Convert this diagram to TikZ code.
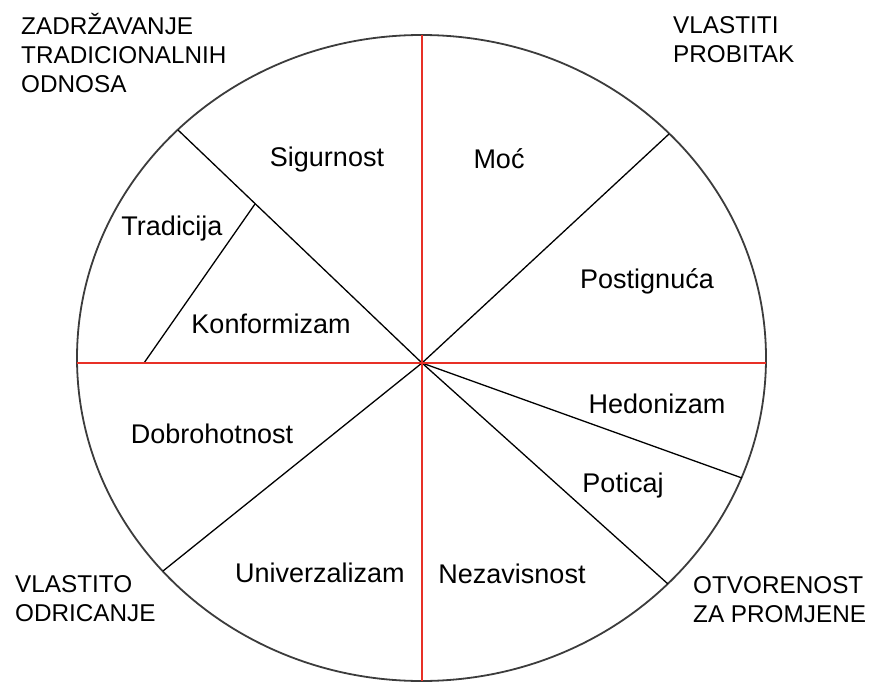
\documentclass[tikz,border=0pt]{standalone}
\usepackage{fontspec}
\setmainfont{Liberation Sans}
\definecolor{axisred}{RGB}{232,48,38}
\definecolor{rimgray}{RGB}{60,60,60}
\begin{document}
\begin{tikzpicture}[x=1pt,y=-1pt,
  rim/.style={draw=rimgray,line width=1.8pt},
  axis/.style={draw=axisred,line width=2.6pt},
  divider/.style={draw=black,line width=1.3pt},
  seglabel/.style={anchor=base,inner sep=0pt,font=\fontsize{27}{32}\selectfont},
  headlabel/.style={anchor=base west,inner sep=0pt,font=\fontsize{24.3}{29}\selectfont}]
\useasboundingbox (0,0) rectangle (870,682);
% key points
\coordinate (C) at (422,363);
\coordinate (top) at (422,35);
\coordinate (bottom) at (422,681);
\coordinate (left) at (77,363);
\coordinate (right) at (766,363);
\coordinate (ul) at (178,130);
\coordinate (ur) at (669,134);
\coordinate (ll) at (163,571);
\coordinate (lr) at (668,584);
\coordinate (rr) at (742,478);
\coordinate (td) at (255,204);
\coordinate (tb) at (144,363);
% ellipse
\draw[rim] (421.5,358) ellipse [x radius=344.5pt, y radius=323pt];
% dividers
\draw[divider] (C) -- (ul);
\draw[divider] (C) -- (ur);
\draw[divider] (C) -- (ll);
\draw[divider] (C) -- (lr);
\draw[divider] (C) -- (rr);
\draw[divider] (td) -- (tb);
% red axes
\draw[axis] (top) -- (bottom);
\draw[axis] (left) -- (right);
% segment labels
\node[seglabel] (sig) at (327,166) {Sigurnost};
\node[seglabel] (moc) at (499,168) {Moć};
\node[seglabel] (tra) at (172,235) {Tradicija};
\node[seglabel] (pos) at (647,288) {Postignuća};
\node[seglabel] (kon) at (271,333) {Konformizam};
\node[seglabel] (hed) at (657,413) {Hedonizam};
\node[seglabel] (dob) at (212,443) {Dobrohotnost};
\node[seglabel] (pot) at (623,492) {Poticaj};
\node[seglabel] (uni) at (320,582) {Univerzalizam};
\node[seglabel] (nez) at (512,583) {Nezavisnost};
% corner labels
\node[headlabel] (zad) at (21,35) {\begin{tabular}[t]{@{}l@{}}ZADRŽAVANJE\\TRADICIONALNIH\\ODNOSA\end{tabular}};
\node[headlabel] (vp) at (673,34) {\begin{tabular}[t]{@{}l@{}}VLASTITI\\PROBITAK\end{tabular}};
\node[headlabel] (vo) at (15,592) {\begin{tabular}[t]{@{}l@{}}VLASTITO\\ODRICANJE\end{tabular}};
\node[headlabel] (ot) at (693,593) {\begin{tabular}[t]{@{}l@{}}OTVORENOST\\ZA PROMJENE\end{tabular}};
\end{tikzpicture}
\end{document}
